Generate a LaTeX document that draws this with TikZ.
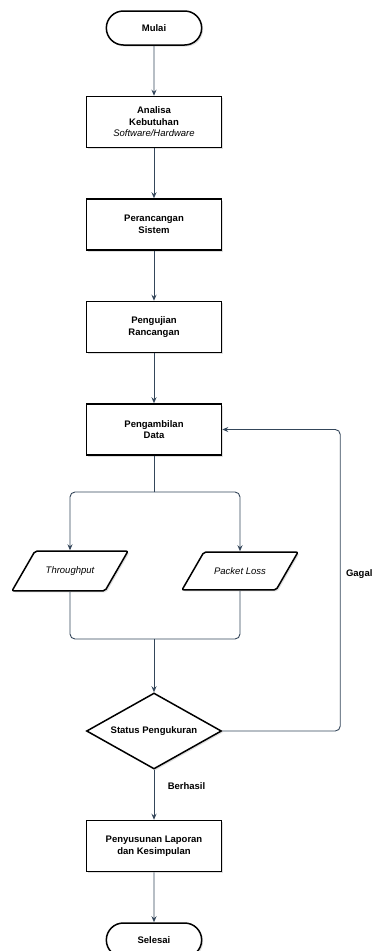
\documentclass[tikz,border=0pt]{standalone}
\usepackage{fontspec}
\setmainfont{Liberation Sans}
\usetikzlibrary{positioning,shapes.geometric,shapes.misc,shadows,arrows.meta}
\definecolor{linecol}{HTML}{34465A}

\begin{document}
\begin{tikzpicture}[x=1pt, y=-1pt, node distance=50pt,
  every node/.style = {align=center,
    font=\fontsize{9.5}{11.5}\selectfont\bfseries},
  shade/.style = {drop shadow={shadow xshift=1.5pt, shadow yshift=-1.5pt, opacity=0.25}},
  box/.style = {rectangle, draw, line width=1.5pt, fill=white, shade,
    minimum width=135pt, minimum height=51pt},
  term/.style = {rounded rectangle, draw, line width=1.5pt, fill=white, shade,
    minimum width=102pt, minimum height=34pt},
  io/.style = {trapezium, trapezium left angle=60, trapezium right angle=120,
    trapezium stretches body=true, rounded corners=2pt, draw, line width=1.5pt,
    fill=white, shade, inner ysep=15.5pt, minimum width=116pt,
    font=\fontsize{9.5}{11.5}\selectfont\itshape},
  decide/.style = {diamond, aspect=1.8, draw, line width=1.5pt, fill=white, shade,
    inner sep=1pt, minimum width=135pt, minimum height=76pt},
  arr/.style = {draw=linecol, line width=0.9pt, -{Stealth[length=6pt,width=5pt]}},
  lin/.style = {draw=linecol, line width=0.9pt}]
  \useasboundingbox (0,0) rectangle (375,951);

  % main column
  \node[term] (mulai) at (154,28) {Mulai};
  \node[box, below=of mulai] (analisa) {Analisa\\Kebutuhan\\{\mdseries\itshape Software/Hardware}};
  \node[box, below=of analisa] (perancangan) {Perancangan\\Sistem};
  \node[box, below=of perancangan] (pengujian) {Pengujian\\Rancangan};
  \node[box, below=of pengujian] (pengambilan) {Pengambilan\\Data};
  \node[io] (throughput) at (70,571) {Throughput};
  \node[io] (packetloss) at (240,571) {Packet Loss};
  \node[decide] (status) at (154,731) {Status Pengukuran};
  \node[box, below=of status] (penyusunan) {Penyusunan Laporan\\dan Kesimpulan};
  \node[term, below=of penyusunan] (selesai) {Selesai};

  \coordinate (split) at (154,492);
  \coordinate (merge) at (154,639);

  \foreach \a/\b in {mulai/analisa, analisa/perancangan,
      perancangan/pengujian, pengujian/pengambilan}
    \draw[arr] (\a) -- (\b);

  % cabang pengukuran
  \draw[lin] (pengambilan) -- (split);
  \draw[arr, rounded corners=5pt] (split) -| (throughput);
  \draw[arr, rounded corners=5pt] (split) -| (packetloss);
  \draw[lin, rounded corners=5pt] (throughput) |- (merge);
  \draw[lin, rounded corners=5pt] (packetloss) |- (merge);
  \draw[arr] (merge) -- (status);

  % hasil keputusan
  \draw[arr, rounded corners=5pt] (status.east) -- ++(118,0)
    |- node[pos=0.26, right, xshift=2pt] {Gagal} (pengambilan.east);
  \draw[arr] (status) -- node[pos=0.32, right=10pt] {Berhasil} (penyusunan);
  \draw[arr] (penyusunan) -- (selesai);
\end{tikzpicture}
\end{document}
